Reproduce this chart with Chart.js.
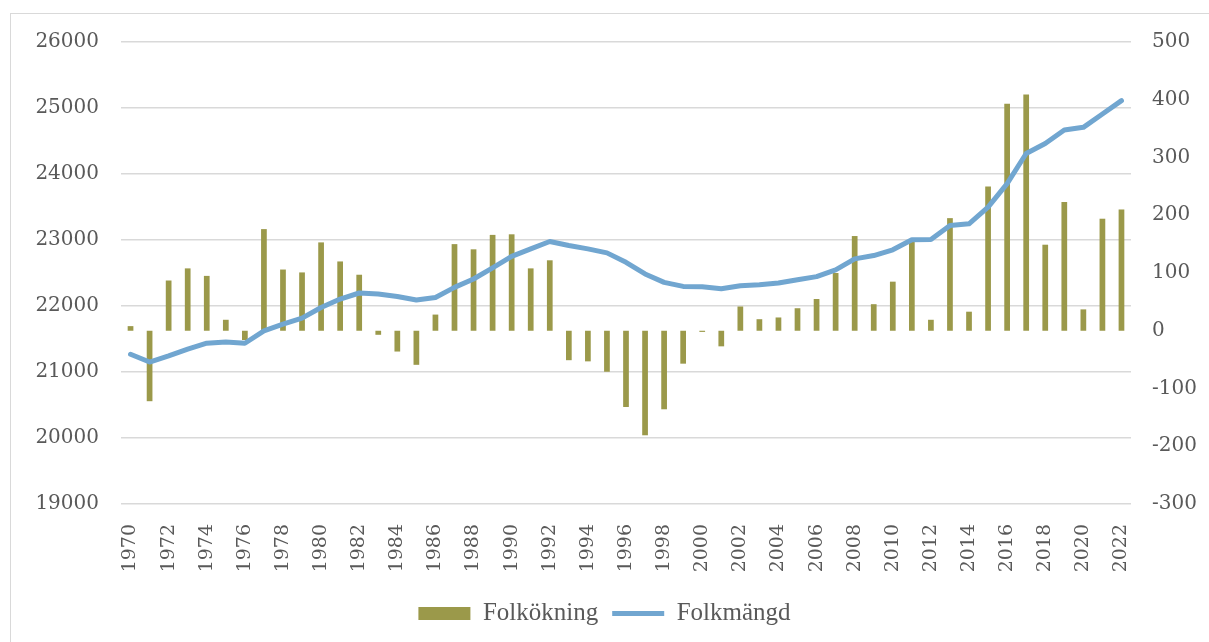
<!DOCTYPE html>
<html lang="sv">

<head>
    <meta charset="UTF-8">
    <script src="https://cdn.jsdelivr.net/npm/chart.js"></script>
    <title>Folkmängd och folkökning</title>
    <style>
        body { margin: 0; background: #ffffff; }
        .ram {
            position: absolute; left: 10px; top: 13px;
            width: 1260px; height: 700px;
            border: 1px solid #d9d9d9;
        }
        .grafik { position: absolute; left: 0; top: 0; width: 1209px; height: 642px; }
    </style>
</head>

<body>
    <div class="ram"></div>
    <div class="grafik">
        <canvas id="folkChart"></canvas>
    </div>

    <script>
        const ar = [];
        for (let y = 1970; y <= 2022; y++) ar.push(String(y));

        // Folkökning (höger axel)
        const folkokning = [
            8, -122, 87, 108, 95, 19, -16, 176, 106, 101,
            153, 120, 97, -7, -36, -59, 28, 150, 141, 166,
            167, 108, 122, -51, -53, -71, -132, -181, -136, -57,
            -2, -27, 42, 20, 23, 39, 55, 100, 164, 46,
            85, 154, 19, 195, 33, 250, 393, 409, 149, 223,
            37, 194, 210
        ];

        // Folkmängd (vänster axel)
        const folkmangd = [
            21269, 21151, 21243, 21345, 21436, 21456, 21436, 21623, 21725, 21816,
            21977, 22105, 22197, 22181, 22145, 22090, 22130, 22282, 22409, 22577,
            22753, 22866, 22977, 22916, 22866, 22805, 22662, 22486, 22358, 22297,
            22292, 22262, 22308, 22323, 22348, 22399, 22445, 22546, 22714, 22764,
            22851, 23003, 23008, 23220, 23246, 23499, 23855, 24311, 24463, 24666,
            24707, 24909, 25112
        ];

        const textFarg = '#595959';
        const rutnat = '#d9d9d9';

        const ctx = document.getElementById('folkChart');
        new Chart(ctx, {
            type: 'bar',
            data: {
                labels: ar,
                datasets: [{
                    type: 'bar',
                    label: 'Folkökning',
                    data: folkokning,
                    yAxisID: 'hoger',
                    backgroundColor: '#9b994a',
                    borderWidth: 0,
                    categoryPercentage: 1,
                    barPercentage: 0.3,
                    pointStyle: 'rect',
                    order: 2
                }, {
                    type: 'line',
                    label: 'Folkmängd',
                    data: folkmangd,
                    yAxisID: 'vanster',
                    borderColor: '#71a6d0',
                    backgroundColor: '#71a6d0',
                    borderWidth: 5,
                    borderCapStyle: 'round',
                    borderJoinStyle: 'round',
                    pointRadius: 0,
                    tension: 0,
                    pointStyle: 'line',
                    order: 1
                }]
            },
            options: {
                responsive: true,
                maintainAspectRatio: false,
                animation: false,
                layout: { padding: { top: 42, bottom: 6, left: 0, right: 0 } },
                plugins: {
                    tooltip: { enabled: false },
                    legend: {
                        position: 'bottom',
                        labels: {
                            usePointStyle: true,
                            pointStyleWidth: 52,
                            boxHeight: 13,
                            color: textFarg,
                            padding: 14,
                            font: { family: 'Liberation Serif', size: 25 },
                            sort: (a, b) => a.datasetIndex - b.datasetIndex
                        }
                    }
                },
                scales: {
                    x: {
                        offset: true,
                        grid: { display: false },
                        border: { display: false },
                        afterFit: (s) => { s.height = 83; },
                        ticks: {
                            autoSkip: false,
                            minRotation: 90,
                            maxRotation: 90,
                            padding: 12,
                            color: textFarg,
                            font: { family: 'DejaVu Serif', size: 19 },
                            callback: function (v, i) {
                                return i % 2 === 0 ? this.getLabelForValue(v) : '';
                            }
                        }
                    },
                    vanster: {
                        position: 'left',
                        min: 19000,
                        max: 26000,
                        afterFit: (s) => { s.width = 121; },
                        grid: { color: rutnat, lineWidth: 1.5, drawTicks: false },
                        border: { display: false },
                        ticks: {
                            stepSize: 1000,
                            padding: 22,
                            color: textFarg,
                            font: { family: 'DejaVu Serif', size: 20 },
                            callback: (v) => String(v)
                        }
                    },
                    hoger: {
                        position: 'right',
                        min: -300,
                        max: 500,
                        afterFit: (s) => { s.width = 78; },
                        grid: { display: false, drawTicks: false },
                        border: { display: false },
                        ticks: {
                            stepSize: 100,
                            padding: 21,
                            color: textFarg,
                            font: { family: 'DejaVu Serif', size: 20 },
                            callback: (v) => String(v)
                        }
                    }
                }
            }
        });
    </script>
</body>

</html>
